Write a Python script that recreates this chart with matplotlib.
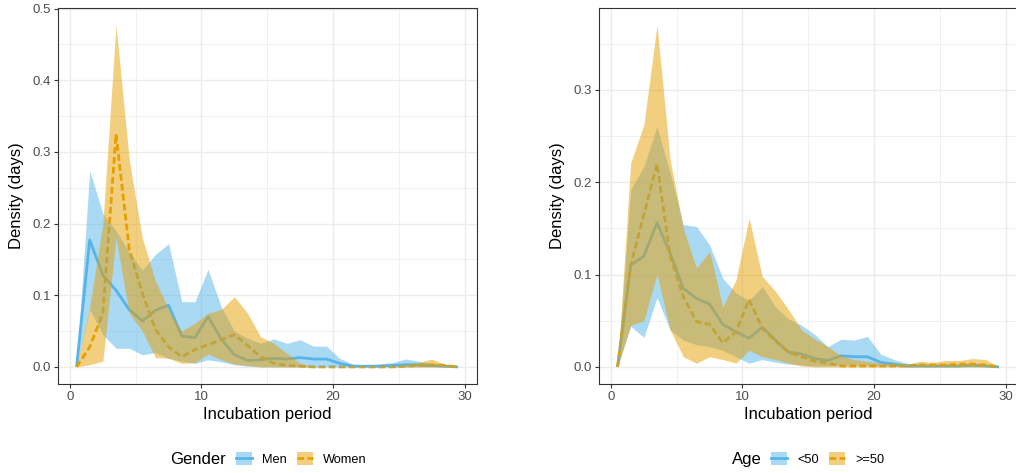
import numpy as np
import matplotlib
matplotlib.use("Agg")
from matplotlib import pyplot as plt
from matplotlib.patches import Patch
from matplotlib.lines import Line2D
from matplotlib.ticker import MultipleLocator

plt.rcParams['font.family'] = ['Liberation Sans', 'DejaVu Sans']

# incubation period (days), one point per day bin
days = [0.5, 1.5, 2.5, 3.5, 4.5, 5.5, 6.5, 7.5, 8.5, 9.5,
        10.5, 11.5, 12.5, 13.5, 14.5, 15.5, 16.5, 17.5, 18.5, 19.5,
        20.5, 21.5, 22.5, 23.5, 24.5, 25.5, 26.5, 27.5, 28.5, 29.5]

# Gender panel
men_mid = [0, 0.177, 0.128, 0.107, 0.080, 0.064, 0.079, 0.086, 0.043, 0.041,
           0.070, 0.039, 0.017, 0.009, 0.010, 0.012, 0.011, 0.013, 0.011, 0.011,
           0.005, 0.001, 0.001, 0.001, 0.002, 0.003, 0.003, 0.002, 0.001, 0]
men_hi = [0, 0.274, 0.214, 0.190, 0.160, 0.135, 0.157, 0.172, 0.091, 0.091,
          0.136, 0.084, 0.050, 0.040, 0.033, 0.039, 0.033, 0.038, 0.029, 0.029,
          0.012, 0.004, 0.003, 0.004, 0.006, 0.011, 0.008, 0.005, 0.003, 0]
men_lo = [0, 0.080, 0.045, 0.026, 0.026, 0.017, 0.020, 0.012, 0.008, 0.005,
          0.010, 0.007, 0.003, 0.001, 0, 0, 0, 0, 0, 0,
          0, 0, 0, 0, 0, 0, 0, 0, 0, 0]
women_mid = [0, 0.028, 0.075, 0.325, 0.165, 0.103, 0.052, 0.028, 0.014, 0.024,
             0.031, 0.038, 0.045, 0.030, 0.014, 0.005, 0.002, 0.001, 0, 0,
             0, 0, 0, 0, 0, 0.001, 0.002, 0.003, 0.002, 0]
women_hi = [0, 0.084, 0.200, 0.477, 0.290, 0.180, 0.120, 0.080, 0.050, 0.061,
            0.075, 0.080, 0.098, 0.075, 0.042, 0.033, 0.019, 0.005, 0.001, 0,
            0, 0, 0, 0, 0, 0.003, 0.006, 0.011, 0.004, 0]
women_lo = [0, 0.003, 0.008, 0.180, 0.075, 0.050, 0.013, 0.012, 0.005, 0.006,
            0.018, 0.010, 0.004, 0.002, 0, 0, 0, 0, 0, 0,
            0, 0, 0, 0, 0, 0, 0, 0, 0, 0]

# Age panel
young_mid = [0, 0.110, 0.120, 0.156, 0.123, 0.085, 0.074, 0.068, 0.046, 0.038,
             0.031, 0.043, 0.029, 0.016, 0.014, 0.009, 0.007, 0.012, 0.011, 0.011,
             0.005, 0.003, 0.001, 0.001, 0.001, 0.001, 0.001, 0.002, 0.001, 0]
young_hi = [0, 0.192, 0.217, 0.260, 0.210, 0.154, 0.152, 0.132, 0.096, 0.080,
            0.072, 0.087, 0.065, 0.052, 0.045, 0.035, 0.022, 0.030, 0.029, 0.033,
            0.014, 0.008, 0.004, 0.003, 0.002, 0.002, 0.002, 0.003, 0.002, 0]
young_lo = [0, 0.044, 0.032, 0.075, 0.040, 0.029, 0.024, 0.022, 0.018, 0.011,
            0.004, 0.008, 0.005, 0.003, 0.002, 0.001, 0.001, 0.002, 0.002, 0.002,
            0.001, 0.001, 0, 0, 0, 0, 0, 0, 0, 0]
old_mid = [0, 0.110, 0.165, 0.220, 0.120, 0.076, 0.049, 0.046, 0.026, 0.038,
           0.073, 0.042, 0.028, 0.016, 0.011, 0.006, 0.004, 0.001, 0.001, 0.001,
           0.001, 0.001, 0.001, 0.002, 0.002, 0.002, 0.003, 0.003, 0.002, 0]
old_hi = [0, 0.221, 0.262, 0.370, 0.224, 0.150, 0.107, 0.125, 0.065, 0.094,
          0.161, 0.098, 0.082, 0.062, 0.040, 0.030, 0.022, 0.012, 0.008, 0.006,
          0.004, 0.004, 0.003, 0.006, 0.005, 0.007, 0.007, 0.009, 0.008, 0]
old_lo = [0, 0.045, 0.050, 0.100, 0.040, 0.011, 0.004, 0.011, 0.008, 0.004,
          0.018, 0.011, 0.008, 0.004, 0.001, 0, 0, 0, 0, 0,
          0, 0, 0, 0, 0, 0, 0, 0, 0, 0]

BLUE = '#56B4E9'
ORANGE = '#E69F00'
DASH = (0, (2.4, 1.2))
W, H = 1016, 473


def panel(ax, groups, ymax, ystep):
    # lines first, ribbons on top (as in the original)
    for mid, lo, hi, col, ls in groups:
        ax.plot(days, mid, color=col, lw=2.0, ls=ls, zorder=2,
                solid_capstyle='butt', dash_capstyle='butt')
    for mid, lo, hi, col, ls in groups:
        ax.fill_between(days, lo, hi, color=col, alpha=0.5, lw=0, zorder=3)
    pad = 0.05 * ymax
    ax.set_ylim(-pad, ymax + pad)
    ax.set_xlim(-0.95, 30.95)
    ax.xaxis.set_major_locator(MultipleLocator(10))
    ax.xaxis.set_minor_locator(MultipleLocator(5))
    ax.yaxis.set_major_locator(MultipleLocator(ystep))
    ax.yaxis.set_minor_locator(MultipleLocator(ystep / 2))
    ax.grid(which='major', color='#EBEBEB', lw=1.0, zorder=0)
    ax.grid(which='minor', color='#EBEBEB', lw=0.5, zorder=0)
    ax.set_axisbelow(True)
    ax.tick_params(which='major', length=3, width=0.8, color='#333333',
                   labelcolor='#4D4D4D', labelsize=9.5, pad=2)
    ax.tick_params(which='minor', length=0)
    for s in ax.spines.values():
        s.set_color('#333333')
        s.set_linewidth(0.8)
    ax.set_xlabel('Incubation period', fontsize=12, labelpad=3)
    ax.set_ylabel('Density (days)', fontsize=12, labelpad=6)


def key_legend(fig, ax, title, labels, tx, kx):
    handles = [(Patch(facecolor=BLUE, alpha=0.5, lw=0), Line2D([], [], color=BLUE, lw=2)),
               (Patch(facecolor=ORANGE, alpha=0.5, lw=0), Line2D([], [], color=ORANGE, lw=2, ls=DASH))]
    fig.text(tx / W, 1 - 459 / H, title, fontsize=12, ha='left', va='center')
    ax.legend(handles, labels, ncol=2, loc='center left', frameon=False,
              bbox_to_anchor=(kx / W, 1 - 459 / H), bbox_transform=fig.transFigure,
              borderaxespad=0, borderpad=0, fontsize=9.2, handlelength=1.25,
              handleheight=1.2, handletextpad=0.8, columnspacing=0.8)


fig = plt.figure(figsize=(W / 100, H / 100), dpi=100)
bottom = (H - 384) / H
height = (384 - 8) / H
ax1 = fig.add_axes([57.5 / W, bottom, (477 - 57.5) / W, height])
ax2 = fig.add_axes([598.5 / W, bottom, (1018 - 598.5) / W, height])

panel(ax1, [(men_mid, men_lo, men_hi, BLUE, '-'),
            (women_mid, women_lo, women_hi, ORANGE, DASH)], 0.477, 0.1)
panel(ax2, [(young_mid, young_lo, young_hi, BLUE, '-'),
            (old_mid, old_lo, old_hi, ORANGE, DASH)], 0.370, 0.1)

key_legend(fig, ax1, 'Gender', ['Men', 'Women'], 170, 236)
key_legend(fig, ax2, 'Age', ['<50', '>=50'], 732, 771)

fig.savefig('out.png', dpi=100)
